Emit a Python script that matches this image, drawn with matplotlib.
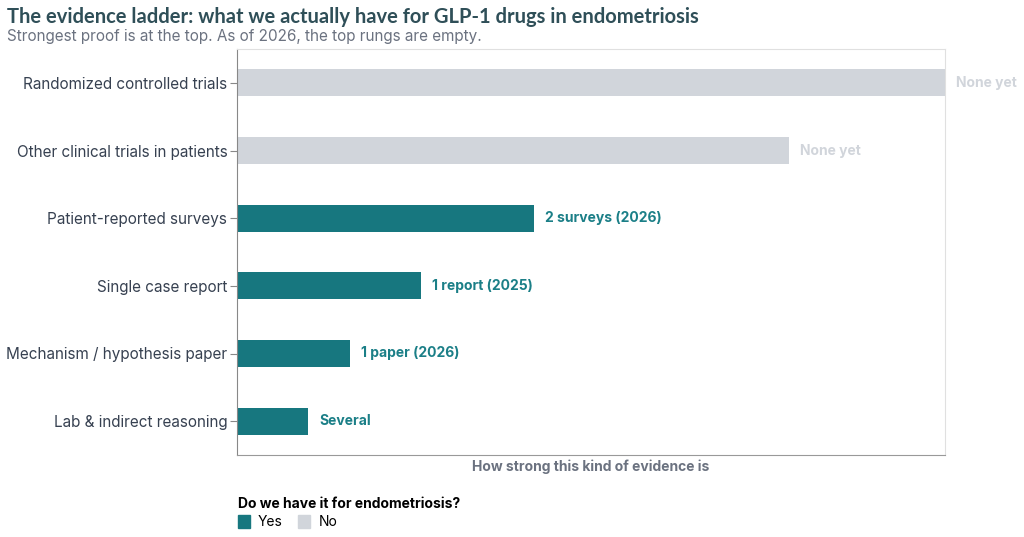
import matplotlib.pyplot as plt
from matplotlib.patches import Patch

categories = ["Randomized controlled trials", "Other clinical trials in patients",
              "Patient-reported surveys", "Single case report",
              "Mechanism / hypothesis paper", "Lab & indirect reasoning"]
strength = [100, 78, 42, 26, 16, 10]
have_it = ["No", "No", "Yes", "Yes", "Yes", "Yes"]
labels = ["None yet", "None yet", "2 surveys (2026)", "1 report (2025)",
          "1 paper (2026)", "Several"]

teal = "#17777f"
grey = "#d1d5db"
colors = {"Yes": teal, "No": grey}
text_colors = {"Yes": "#1b7f87", "No": "#d1d5db"}

plt.rcParams["font.family"] = ["Inter", "DejaVu Sans"]

fig = plt.figure(figsize=(10.24, 5.37), dpi=100)
ax = fig.add_axes([237 / 1024, 1 - 455 / 537, 708 / 1024, 406 / 537])

y = list(range(len(categories)))
ax.barh(y, strength, height=0.4, color=[colors[h] for h in have_it])
for yi, v, h, lab in zip(y, strength, have_it, labels):
    ax.annotate(lab, (v, yi), xytext=(8, 0), textcoords="offset points",
                va="center", ha="left", fontsize=10, fontweight="bold",
                color=text_colors[h], annotation_clip=False)

ax.set_xlim(0, 100)
ax.set_ylim(len(categories) - 0.5, -0.5)
ax.set_yticks(y)
ax.set_yticklabels(categories, fontsize=11, color="#374151")
ax.set_xticks([])
ax.tick_params(axis="y", length=5, width=0.8, color="#888888", pad=2)

ax.spines["left"].set_color("#888888")
ax.spines["bottom"].set_color("#999999")
ax.spines["top"].set_color("#e0e0e0")
ax.spines["right"].set_color("#e0e0e0")
for s in ax.spines.values():
    s.set_linewidth(0.8)

ax.set_xlabel("How strong this kind of evidence is", fontsize=10,
              fontweight="bold", color="#6b7280", labelpad=3)

fig.text(7 / 1024, 1 - 17 / 537, "The evidence ladder: what we actually have for GLP-1 drugs in endometriosis",
         fontsize=14.5, fontweight="bold", color="#2f4f58", family=["Lato", "DejaVu Sans"],
         va="center", ha="left")
fig.text(7 / 1024, 1 - 37 / 537, "Strongest proof is at the top. As of 2026, the top rungs are empty.",
         fontsize=11, color="#6b7280", va="center", ha="left")

handles = [Patch(color=teal, label="Yes"), Patch(color=grey, label="No")]
leg = fig.legend(handles=handles, title="Do we have it for endometriosis?",
                 loc="upper left", bbox_to_anchor=(231 / 1024, 1 - 490 / 537),
                 ncol=2, frameon=False, fontsize=10, title_fontsize=10,
                 handlelength=0.85, handleheight=1.1, handletextpad=0.6,
                 columnspacing=1.1, borderpad=0, labelspacing=0.3)
leg.get_title().set_fontweight("bold")
leg._legend_box.align = "left"

fig.savefig("out.png", dpi=100)
